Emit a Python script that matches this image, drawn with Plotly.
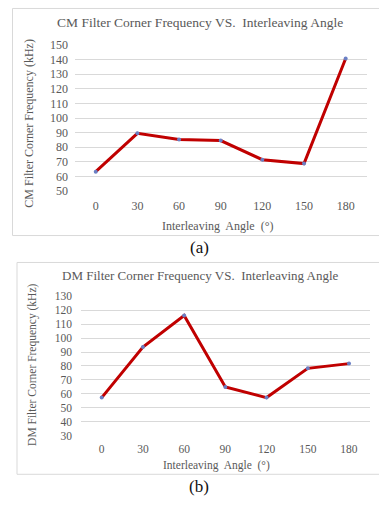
import plotly.graph_objects as go

# Interleaving angles (degrees) and measured filter corner frequencies (kHz)
angles = ["0", "30", "60", "90", "120", "150", "180"]
cm_freq = [63.3, 89.5, 85.3, 84.6, 71.5, 68.8, 140.7]
dm_freq = [57.4, 93.6, 116.1, 65.0, 57.4, 78.3, 81.7]

cm_ticks = list(range(50, 151, 10))
dm_ticks = list(range(30, 131, 10))

W, H = 379, 509
FONT = "'Liberation Serif', 'Times New Roman', Times, serif"
TXT = "#595959"
GRID = "#d9d9d9"
LINE = "#c00000"
MARK = "#6a7fc4"


def px(x):
    return x / W


def py(y):
    return 1 - y / H


fig = go.Figure()

fig.add_trace(go.Scatter(
    x=angles, y=cm_freq, xaxis="x", yaxis="y", mode="lines+markers",
    line=dict(color=LINE, width=3),
    marker=dict(color=MARK, size=4),
    showlegend=False, hoverinfo="x+y",
))
fig.add_trace(go.Scatter(
    x=angles, y=dm_freq, xaxis="x2", yaxis="y2", mode="lines+markers",
    line=dict(color=LINE, width=3),
    marker=dict(color=MARK, size=4),
    showlegend=False, hoverinfo="x+y",
))

xcommon = dict(type="category", range=[-0.5, 6.5], showgrid=False,
               zeroline=False, showline=False, ticks="",
               tickfont=dict(family=FONT, size=12, color=TXT))
ycommon = dict(showgrid=True, gridcolor=GRID, gridwidth=1, zeroline=False,
               showline=False, ticks="",
               tickfont=dict(family=FONT, size=12, color=TXT))

fig.update_layout(
    width=W, height=H,
    margin=dict(l=0, r=0, t=0, b=0),
    paper_bgcolor="white", plot_bgcolor="white",
    font=dict(family=FONT, color=TXT),
    xaxis=dict(domain=[px(74.9), px(366.5)], anchor="y",
               ticklabelstandoff=6, **xcommon),
    yaxis=dict(domain=[py(189.3), py(39)], anchor="x", range=[50, 150],
               tickvals=cm_ticks, ticklabelstandoff=6, **ycommon),
    xaxis2=dict(domain=[px(81.1), px(369.6)], anchor="y2",
                ticklabelstandoff=5, **xcommon),
    yaxis2=dict(domain=[py(441), py(297.3)], anchor="x2", range=[30, 130],
                tickvals=dm_ticks, ticklabelstandoff=8, **ycommon),
)
fig.layout.xaxis2.tickfont.size = 11.5
fig.layout.yaxis2.tickfont.size = 11.5

# chart frames
fig.add_shape(type="rect", xref="paper", yref="paper",
              x0=px(12.5), x1=px(380), y0=py(235), y1=py(1.5),
              line=dict(color=GRID, width=1), fillcolor="rgba(0,0,0,0)")
fig.add_shape(type="rect", xref="paper", yref="paper",
              x0=px(17), x1=px(380), y0=py(480.5), y1=py(262.7),
              line=dict(color=GRID, width=1), fillcolor="rgba(0,0,0,0)")


def note(text, x, y, size, color=TXT, angle=0):
    fig.add_annotation(text=text, xref="paper", yref="paper",
                       x=px(x), y=py(y), xanchor="center", yanchor="middle",
                       showarrow=False, textangle=angle,
                       font=dict(family=FONT, size=size, color=color))


note("CM Filter Corner Frequency VS.  Interleaving Angle", 199.5, 16, 13.5)
note("CM Filter Corner Frequency (kHz)", 29, 120, 12, angle=-90)
note("Interleaving  Angle  (°)", 217.5, 225, 12)
note("(a)", 199, 247, 17, color="#111111")

note("DM Filter Corner Frequency VS.  Interleaving Angle", 200.5, 276, 13)
note("DM Filter Corner Frequency (kHz)", 33, 368, 11.5, angle=-90)
note("Interleaving  Angle  (°)", 216, 471, 11.5)
note("(b)", 199, 493, 17, color="#111111")

fig.write_html("out.html")
